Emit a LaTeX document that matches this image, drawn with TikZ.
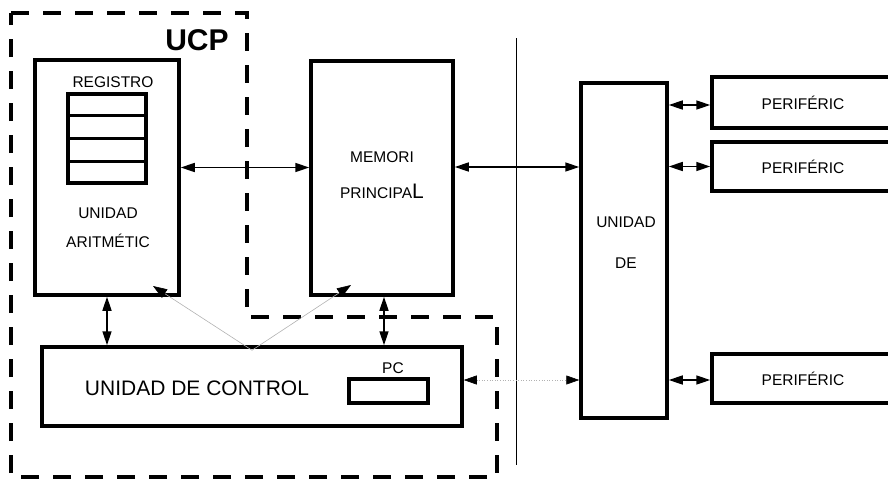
\documentclass[tikz,border=0pt]{standalone}
\usepackage{fontspec}
\setmainfont{Liberation Sans}
\usetikzlibrary{arrows.meta,positioning,calc}

\begin{document}
\begin{tikzpicture}[x=1pt,y=-1pt,
  blk/.style={draw,line width=3.5pt,inner sep=0pt},
  lbl/.style={font=\fontsize{15.5}{18}\selectfont},
  link/.style={line width=1.6pt,{Triangle[length=14pt,width=9pt]}-{Triangle[length=14pt,width=9pt]}},
  faint/.style={draw=gray!60,line width=0.6pt}]
  \useasboundingbox (0,0) rectangle (888,480);
  % UCP outline
  \draw[line width=4.5pt,dash pattern=on 18pt off 14pt] (11,13) -- (247,13) -- (247,317) -- (497,317) -- (497,477) -- (11,477) -- cycle;
  \node[font=\bfseries\fontsize{30}{32}\selectfont] (ucp) at (197,40) {UCP};
  % blocks
  \node[blk,minimum width=144pt,minimum height=235pt] (al) at (107,177.5) {};
  \node[blk,minimum width=142pt,minimum height=234pt] (mp) at (382,178) {};
  \node[blk,minimum width=86pt,minimum height=335pt] (es) at (624,250.5) {};
  \node[blk,minimum width=420pt,minimum height=79pt] (uc) at (252,386.5) {};
  \node[blk,minimum width=79pt,minimum height=24pt] (pc) at (388.5,391) {};
  \node[blk,minimum width=78pt,minimum height=89pt] (reg) at (107,138.5) {};
  \foreach \k in {1,2,3}
    \draw[line width=3pt] ($(reg.north west)!\k/4!(reg.south west)$) -- ($(reg.north east)!\k/4!(reg.south east)$);
  \node[blk,minimum width=182pt,minimum height=51pt,lbl] (p1) at (803,102.5) {PERIFÉRIC};
  \node[blk,minimum width=182pt,minimum height=49pt,lbl] (p2) at (803,166.5) {PERIFÉRIC};
  \node[blk,minimum width=182pt,minimum height=49pt,lbl] (p3) at (803,378.5) {PERIFÉRIC};
  % labels
  \node[lbl] (reglabel) at (113,82) {REGISTRO};
  \node[lbl,align=center,font=\fontsize{15.5}{29}\selectfont] (allabel) at (108,228) {UNIDAD\\ARITMÉTIC};
  \node[lbl,align=center,font=\fontsize{15.5}{36}\selectfont] (mplabel) at (382,175) {MEMORI\\PRINCIPA{\fontsize{21}{21}\selectfont L}};
  \node[lbl,align=center,font=\fontsize{15.5}{41}\selectfont] (eslabel) at (626,243) {UNIDAD\\DE};
  \node[font=\fontsize{21}{24}\selectfont] (uclabel) at (197,388) {UNIDAD DE CONTROL};
  \node[lbl] (pclabel) at (393,368) {PC};
  % divider
  \draw[line width=0.8pt] (516,38) -- (516,465);
  % connectors
  \draw[link] ([yshift=10pt]al.east) -- ([yshift=10pt]al.east -| mp.west);
  \draw[link] ([yshift=11pt]mp.east) -- ([yshift=11pt]mp.east -| es.west);
  \draw[link] (al.south) -- (al.south |- uc.north);
  \draw[link] ([xshift=2pt]mp.south) -- ([xshift=2pt]mp.south |- uc.north);
  \draw[link] ([yshift=-2.5pt]p1.west -| es.east) -- ([yshift=-2.5pt]p1.west);
  \draw[link] (p2.west -| es.east) -- (p2.west);
  \draw[link] ([yshift=-1.5pt]p3.west -| es.east) -- ([yshift=-1.5pt]p3.west);
  \coordinate (cuv) at ([yshift=-5pt]uc.north);
  \coordinate (altip) at (153,286);
  \coordinate (mptip) at (351,285);
  \draw[faint,-{Triangle[length=14pt,width=10pt,color=black]}] (cuv) -- (altip);
  \draw[faint,-{Triangle[length=14pt,width=10pt,color=black]}] (cuv) -- (mptip);
  \draw[faint,dotted,{Triangle[length=13pt,width=9pt,color=black]}-{Triangle[length=13pt,width=9pt,color=black]}] ([yshift=6.5pt]uc.east) -- ([yshift=6.5pt]uc.east -| es.west);
\end{tikzpicture}
\end{document}
